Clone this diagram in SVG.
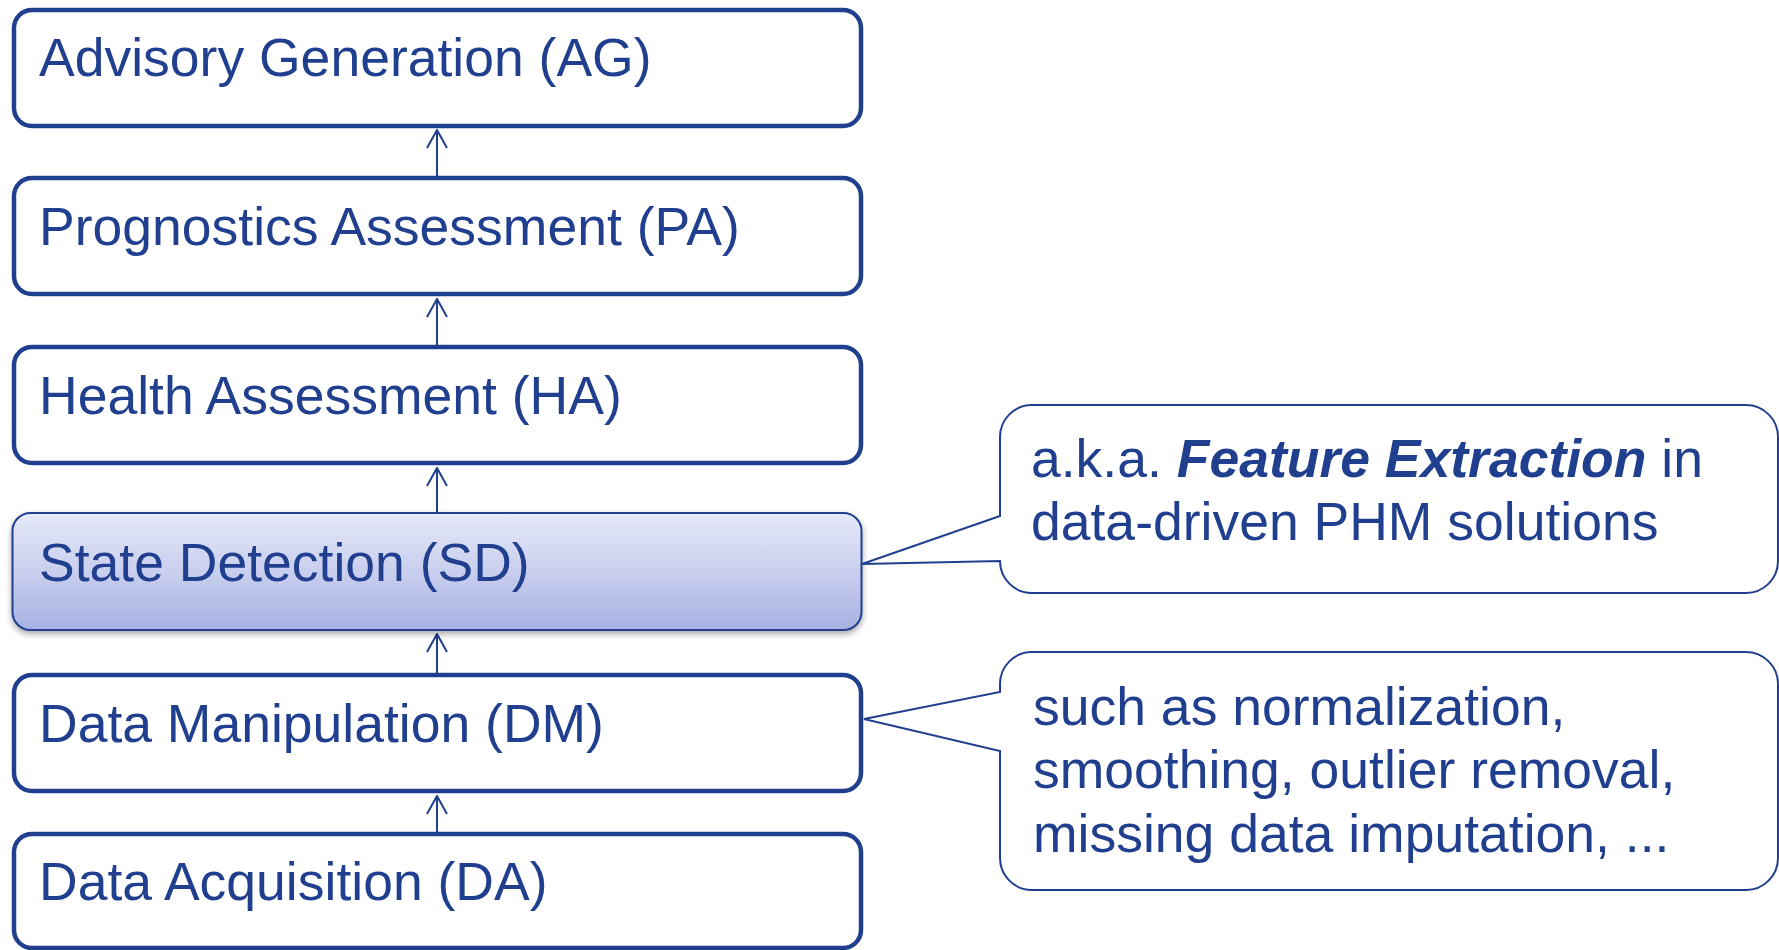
<svg xmlns="http://www.w3.org/2000/svg" width="1779" height="950" viewBox="0 0 1779 950">
  <defs>
    <linearGradient id="sdFill" x1="0" y1="0" x2="0" y2="1">
      <stop offset="0" stop-color="#e6e9f8"/>
      <stop offset="0.5" stop-color="#c9cfee"/>
      <stop offset="1" stop-color="#a7b1e3"/>
    </linearGradient>
    <filter id="shadow" x="-5%" y="-10%" width="110%" height="130%">
      <feDropShadow dx="0" dy="3" stdDeviation="3" flood-color="#000" flood-opacity="0.35"/>
    </filter>
    <!-- open V head, drawn along +x so orient="auto" follows the line -->
    <marker id="arrow" viewBox="0 0 20 22" refX="19" refY="11" markerWidth="20" markerHeight="22" markerUnits="userSpaceOnUse" orient="auto">
      <path d="M1,1 L19,11 L1,21" fill="none" stroke="#213f8f" stroke-width="2"/>
    </marker>
  </defs>
  <style>
    .box { fill: #ffffff; stroke: #213f8f; stroke-width: 4.5; }
    .label { font-family: "Liberation Sans", Arial, sans-serif; font-size: 53.5px; fill: #213f8f; }
    .callout { fill: #ffffff; stroke: #213f8f; stroke-width: 2; }
    .link { stroke: #213f8f; stroke-width: 2; fill: none; }
  </style>
  <rect width="1779" height="950" fill="#ffffff"/>

  <!-- upward connectors between layers -->
  <g id="connectors">
    <line class="link" x1="437" y1="176" x2="437" y2="130" marker-end="url(#arrow)"/>
    <line class="link" x1="437" y1="345" x2="437" y2="299" marker-end="url(#arrow)"/>
    <line class="link" x1="437" y1="512" x2="437" y2="468" marker-end="url(#arrow)"/>
    <line class="link" x1="437" y1="673" x2="437" y2="634" marker-end="url(#arrow)"/>
    <line class="link" x1="437" y1="832" x2="437" y2="796" marker-end="url(#arrow)"/>
  </g>

  <g id="node-ag">
    <rect class="box" x="14" y="10" width="847" height="116" rx="18"/>
    <text class="label" x="39" y="76">Advisory Generation (AG)</text>
  </g>
  <g id="node-pa">
    <rect class="box" x="14" y="178" width="847" height="116" rx="18"/>
    <text class="label" x="39" y="245">Prognostics Assessment (PA)</text>
  </g>
  <g id="node-ha">
    <rect class="box" x="14" y="347" width="847" height="116" rx="18"/>
    <text class="label" x="39" y="414">Health Assessment (HA)</text>
  </g>
  <g id="node-sd">
    <rect x="12.5" y="513" width="849" height="117" rx="18" fill="url(#sdFill)" stroke="#213f8f" stroke-width="2" filter="url(#shadow)"/>
    <text class="label" x="39" y="581">State Detection (SD)</text>
  </g>
  <g id="node-dm">
    <rect class="box" x="14" y="675" width="847" height="116" rx="18"/>
    <text class="label" x="39" y="742">Data Manipulation (DM)</text>
  </g>
  <g id="node-da">
    <rect class="box" x="14" y="834" width="847" height="114" rx="18"/>
    <text class="label" x="39" y="900">Data Acquisition (DA)</text>
  </g>

  <!-- note attached to State Detection -->
  <g id="note-sd">
    <path class="callout" d="M1032,405 H1746 A32,32 0 0 1 1778,437 V561 A32,32 0 0 1 1746,593 H1032 A32,32 0 0 1 1000,561 L862,564 L1000,516 V437 A32,32 0 0 1 1032,405 Z"/>
    <text class="label" x="1031" y="477">a.k.a. <tspan font-weight="bold" font-style="italic">Feature Extraction</tspan> in</text>
    <text class="label" x="1031" y="540">data-driven PHM solutions</text>
  </g>

  <!-- note attached to Data Manipulation -->
  <g id="note-dm">
    <path class="callout" d="M1032,652 H1746 A32,32 0 0 1 1778,684 V858 A32,32 0 0 1 1746,890 H1032 A32,32 0 0 1 1000,858 V751 L864,719 L1000,692 V684 A32,32 0 0 1 1032,652 Z"/>
    <text class="label" x="1033" y="725">such as normalization,</text>
    <text class="label" x="1033" y="788">smoothing, outlier removal,</text>
    <text class="label" x="1033" y="852">missing data imputation, ...</text>
  </g>
</svg>
